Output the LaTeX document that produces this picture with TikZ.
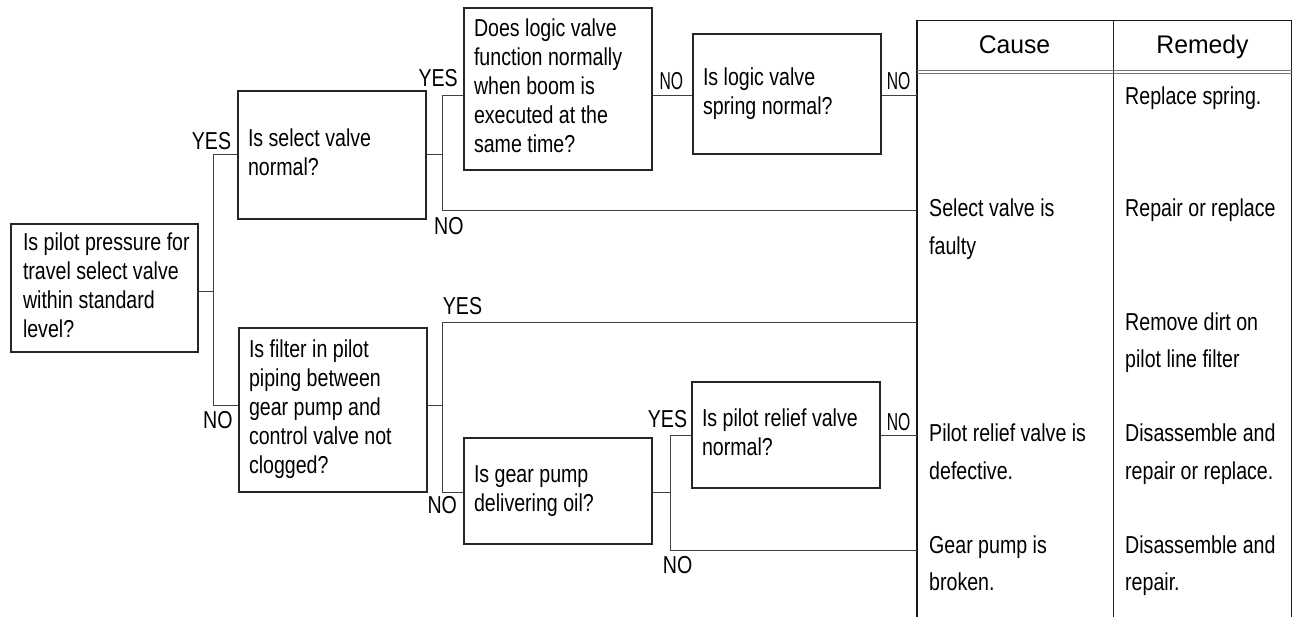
\documentclass[tikz,border=0pt]{standalone}
\usepackage{fontspec}
\setmainfont{Liberation Sans}[FakeStretch=0.8]
\newfontfamily\hdfont{Liberation Sans}[FakeStretch=0.97]
\newfontfamily\nfont{Liberation Sans}[FakeStretch=0.64]
\newcommand\lns[1]{\begin{tabular}[t]{@{}l@{}}#1\end{tabular}}
\newcommand\bx[2]{\makebox[#1pt][l]{\lns{#2}}}
\begin{document}
\begin{tikzpicture}[x=1pt,y=-1pt,
  box/.style={draw=black!85, line width=1.5pt, inner xsep=10pt, inner ysep=0pt,
    font=\fontsize{24.5}{29}\selectfont},
  lbl/.style={inner sep=0pt, anchor=base west, font=\fontsize{24.5}{29}\selectfont},
  nlbl/.style={inner sep=0pt, anchor=base west, font=\nfont\fontsize{24.5}{29}\selectfont},
  cell/.style={inner sep=0pt, anchor=base west, font=\fontsize{24.5}{37.5}\selectfont},
  hd/.style={inner sep=0pt, anchor=base, font=\hdfont\fontsize{25.5}{29}\selectfont},
  conn/.style={draw=black!75, line width=1pt},
  tabline/.style={draw=black!90, line width=1.6pt}]
\useasboundingbox (0,0) rectangle (1297,617);

% decision boxes
\node[box, minimum height=128pt, inner xsep=12pt] (A) at (104.5,288)
  {\bx{163}{Is pilot pressure for\\travel select valve\\within standard\\level?}};
\node[box, minimum height=128pt] (B) at (332,155) {\bx{168}{Is select valve\\normal?}};
\node[box, minimum height=164pt] (C) at (333,410)
  {\bx{168}{Is filter in pilot\\piping between\\gear pump and\\control valve not\\clogged?}};
\node[box, minimum height=162pt] (D) at (558,89)
  {\bx{168}{Does logic valve\\function normally\\when boom is\\executed at the\\same time?}};
\node[box, minimum height=120pt] (E) at (787,94) {\bx{168}{Is logic valve\\spring normal?}};
\node[box, minimum height=106pt] (F) at (558,491) {\bx{168}{Is gear pump\\delivering oil?}};
\node[box, minimum height=106pt] (G) at (786,435) {\bx{168}{Is pilot relief valve\\normal?}};

% table
\coordinate (tabL) at (916.7,20.7);
\coordinate (tabR) at (1291.5,20.7);
\coordinate (tabM) at (1113.3,20.7);
\draw[tabline] (tabL |- 0,617) -- (tabL) -- (tabR) -- (tabR |- 0,617);
\draw[draw=black!85, line width=1pt] (tabM) -- (tabM |- 0,617);
\draw[draw=black!55, line width=1pt] (tabL |- 0,71) -- (tabR |- 0,71);
\draw[draw=black!55, line width=1pt] (tabL |- 0,74) -- (tabR |- 0,74);
\node[hd] (hcause) at (1014.5,53.3) {Cause};
\node[hd] (hremedy) at (1202.5,53.3) {Remedy};

\node[cell] (c1) at (929,216.7) {\lns{Select valve is\\faulty}};
\node[cell] (c2) at (929,441.7) {\lns{Pilot relief valve is\\defective.}};
\node[cell] (c3) at (929,553.3) {\lns{Gear pump is\\broken.}};
\node[cell] (r1) at (1125,105) {Replace spring.};
\node[cell] (r2) at (1125,216.7) {Repair or replace};
\node[cell] (r3) at (1125,330) {\lns{Remove dirt on\\pilot line filter}};
\node[cell] (r4) at (1125,441.7) {\lns{Disassemble and\\repair or replace.}};
\node[cell] (r5) at (1125,553.3) {\lns{Disassemble and\\repair.}};

% junctions
\coordinate (t1) at (213.5,292);
\coordinate (cY) at (0,405);
\coordinate (j2t) at (442.3,95.7);
\coordinate (j2b) at (442.3,210.7);
\coordinate (j3t) at (442.3,322.3);
\coordinate (j3b) at (442.3,492.3);
\coordinate (j4t) at (670.7,435);
\coordinate (j4b) at (670.7,550);

% connectors
\draw[conn] (A.east |- t1) -- (t1);
\draw[conn] (B.west) -| (t1) |- (C.west |- cY);
\draw[conn] (B.east) -- (B.east -| j2t);
\draw[conn] (D.west |- j2t) -- (j2t) -- (j2b) -- (tabL |- j2b);
\draw[conn] (D.east |- j2t) -- (E.west |- j2t);
\draw[conn] (E.east |- j2t) -- (tabL |- j2t);
\draw[conn] (C.east |- cY) -- (j3t |- cY);
\draw[conn] (tabL |- j3t) -- (j3t) -- (j3b) -- (F.west |- j3b);
\draw[conn] (F.east |- j3b) -- (j4t |- j3b);
\draw[conn] (G.west |- j4t) -- (j4t) -- (j4b) -- (tabL |- j4b);
\draw[conn] (G.east |- j4t) -- (tabL |- j4t);

% labels
\node[lbl] (yes1) at (191.7,150) {YES};
\node[lbl] (no1) at (203,428) {NO};
\node[lbl] (yes2) at (418.3,87) {YES};
\node[lbl] (no2) at (434,235) {NO};
\node[nlbl] (no3) at (659.3,89.3) {NO};
\node[nlbl] (no4) at (886.7,90) {NO};
\node[lbl] (yes3) at (442.7,315) {YES};
\node[lbl] (no5) at (427.3,513.3) {NO};
\node[lbl] (yes4) at (647.7,427.3) {YES};
\node[nlbl] (no6) at (886.7,430) {NO};
\node[lbl] (no7) at (662.7,573.3) {NO};
\end{tikzpicture}
\end{document}
